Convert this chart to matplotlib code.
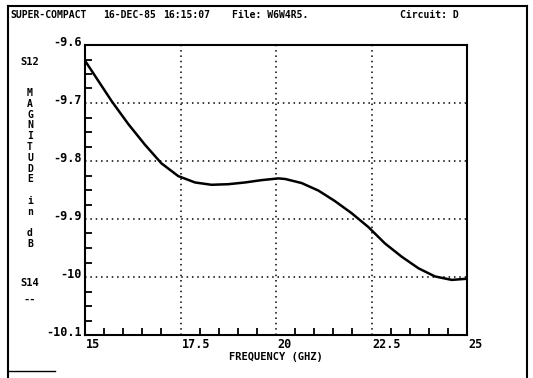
import matplotlib
matplotlib.use("Agg")
import matplotlib.pyplot as plt
from matplotlib.lines import Line2D
import matplotlib.transforms as mtrans

# S12 magnitude
freq = [15.0, 15.35, 15.7, 16.13, 16.57, 17.0, 17.44, 17.88, 18.31, 18.75,
        19.19, 19.62, 20.06, 20.24, 20.67, 21.11, 21.54, 21.98, 22.42, 22.85,
        23.29, 23.73, 24.16, 24.6, 25.0]
s12 = [-9.627, -9.662, -9.697, -9.736, -9.772, -9.804, -9.826, -9.837,
       -9.841, -9.840, -9.837, -9.833, -9.830, -9.831, -9.838, -9.851, -9.869,
       -9.890, -9.914, -9.942, -9.965, -9.985, -9.999, -10.005, -10.003]

xticks = [15, 17.5, 20, 22.5, 25]
xtick_labels = ["15", "17.5", "20", "22.5", "25"]
yticks = [-9.6, -9.7, -9.8, -9.9, -10.0, -10.1]
ytick_labels = ["-9.6", "-9.7", "-9.8", "-9.9", "-10", "-10.1"]
header = ["SUPER-COMPACT", "16-DEC-85", "16:15:07", "File: W6W4R5.", "Circuit: D"]
header_x = [10, 103, 163, 232, 400]

W, H = 533, 378
fig = plt.figure(figsize=(W / 100, H / 100), dpi=100)
fig.patch.set_facecolor("white")

# axes box in pixels: left 85, right 467, top 45, bottom 335
ax = fig.add_axes([85 / W, (H - 335) / H, (467 - 85) / W, (335 - 45) / H])
ax.plot(freq, s12, color="black", lw=1.8)
ax.set_xlim(15, 25)
ax.set_ylim(-10.1, -9.6)

for s in ax.spines.values():
    s.set_linewidth(1.5)

ax.set_xticks(xticks)
ax.set_yticks(yticks)
ax.set_xticks([15 + 0.5 * i for i in range(21)], minor=True)
ax.set_yticks([-10.1 + 0.025 * i for i in range(21)], minor=True)
ax.tick_params(which="major", length=0, labelbottom=False, labelleft=False)
ax.tick_params(which="minor", direction="in", length=5, width=1.3)

for v in xticks[1:-1]:
    ax.axvline(v, color="black", lw=1.1, ls=(0, (1, 2.5)))
for v in yticks[1:-1]:
    ax.axhline(v, color="black", lw=1.1, ls=(0, (1, 2.5)))

fnt = dict(family="DejaVu Sans Mono", weight="bold", color="black")

ylab_tr = ax.get_yaxis_transform() + mtrans.ScaledTranslation(-3 / 100, 3 / 100, fig.dpi_scale_trans)
for v, lab in zip(yticks, ytick_labels):
    ax.text(0, v, lab, transform=ylab_tr, ha="right", va="center", fontsize=8.5, **fnt)

xlab_tr = ax.get_xaxis_transform() + mtrans.ScaledTranslation(1 / 100, -9 / 100, fig.dpi_scale_trans)
for v, lab in zip(xticks, xtick_labels):
    ax.text(v, 0, lab, transform=xlab_tr, ha="left", va="center", fontsize=8.5, **fnt)

ax.text(0.5, -0.075, "FREQUENCY (GHZ)", transform=ax.transAxes, ha="center",
        va="center", fontsize=7.5, **fnt)

# header line
for x, t in zip(header_x, header):
    fig.text(x / W, 1 - 15 / H, t, ha="left", va="center", fontsize=7, **fnt)

# left side labels
fig.text(30 / W, 1 - 62 / H, "S12", ha="center", va="center", fontsize=7.5, **fnt)
letters = list("MAGNITUDE") + ["", "i", "n", "", "d", "B"]
for i, ch in enumerate(letters):
    fig.text(30 / W, 1 - (93 + 10.8 * i) / H, ch, ha="center", va="center", fontsize=7, **fnt)
fig.text(30 / W, 1 - 283 / H, "S14", ha="center", va="center", fontsize=7.5, **fnt)
fig.text(30 / W, 1 - 300 / H, "--", ha="center", va="center", fontsize=7.5, **fnt)

# outer frame of the printout
def frame_line(x0, y0, x1, y1, lw=1.5):
    fig.add_artist(Line2D([x0 / W, x1 / W], [1 - y0 / H, 1 - y1 / H],
                          transform=fig.transFigure, color="black", lw=lw))

frame_line(8, 6, 527, 6)
frame_line(8, 6, 8, 378)
frame_line(527, 6, 527, 378)
frame_line(8, 371, 55, 371, lw=1.0)

fig.savefig("out.png", dpi=100, facecolor="white")
